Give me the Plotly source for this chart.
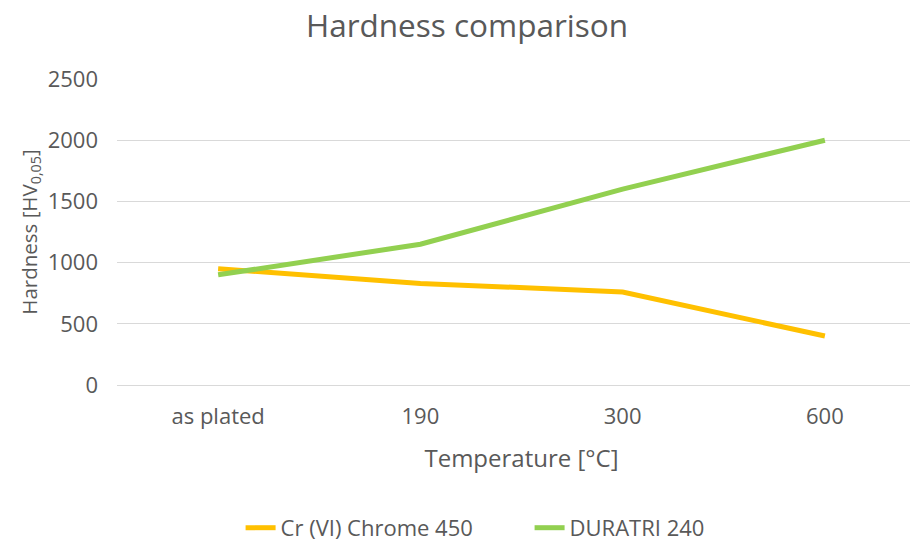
import plotly.graph_objects as go

categories = ["as plated", "190", "300", "600"]
chrome_450 = [950, 830, 760, 400]
duratri_240 = [900, 1150, 1600, 2000]
y_ticks = [0, 500, 1000, 1500, 2000, 2500]

FONT = "'Open Sans', sans-serif"
GREY = "#595959"

fig = go.Figure()
fig.add_trace(go.Scatter(x=categories, y=chrome_450, mode="lines", name="Cr (VI) Chrome 450",
                         line=dict(color="#FFC000", width=5)))
fig.add_trace(go.Scatter(x=categories, y=duratri_240, mode="lines", name="DURATRI 240",
                         line=dict(color="#92D050", width=5)))

fig.update_layout(
    width=918, height=543,
    margin=dict(l=109, r=0, t=71, b=166),
    paper_bgcolor="white", plot_bgcolor="white",
    font=dict(family=FONT, color=GREY, size=22),
    title=dict(text="Hardness comparison", x=0.5, xanchor="center", y=0.967, yanchor="middle",
               font=dict(size=31.5, color=GREY)),
    xaxis=dict(type="category", range=[-0.5, 3.5], showgrid=False, showline=True,
               linecolor="#D9D9D9", linewidth=1, ticks="", tickfont=dict(size=22, color=GREY),
               ticklabelstandoff=12,
               title=dict(text="Temperature [°C]", font=dict(size=24, color=GREY), standoff=20)),
    yaxis=dict(range=[0, 2500], tickvals=y_ticks, showgrid=True, gridcolor="#D9D9D9", gridwidth=1,
               zeroline=False, ticks="", tickfont=dict(size=22, color=GREY), ticklabelstandoff=18,
               title=dict(text="Hardness [HV<sub>0,05</sub>]", font=dict(size=20.5, color=GREY), standoff=4)),
    legend=dict(orientation="h", xref="paper", x=0.51, xanchor="center", y=-0.467, yanchor="middle",
                entrywidth=244, entrywidthmode="pixels",
                font=dict(size=22, color=GREY)),
)

fig.write_html("out.html")
